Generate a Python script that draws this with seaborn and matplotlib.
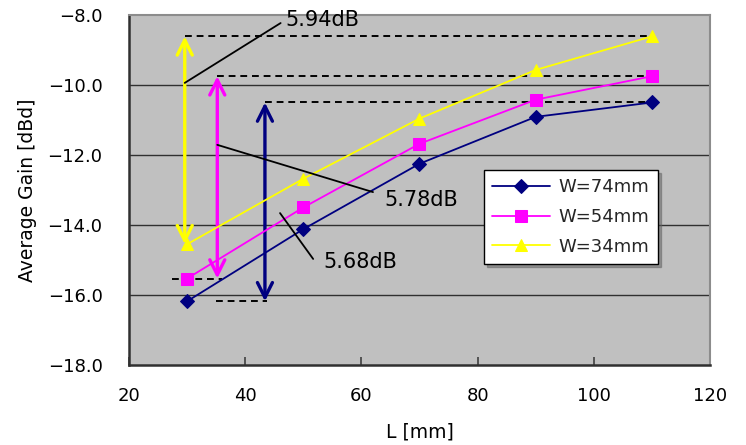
import matplotlib
matplotlib.use("Agg")
import matplotlib.pyplot as plt
import seaborn as sns
import pandas as pd

# Element length L [mm] and average gain [dBd] for each element width W
lengths = [30, 50, 70, 90, 110]
gain_w74 = [-16.18, -14.12, -12.25, -10.91, -10.50]
gain_w54 = [-15.53, -13.50, -11.68, -10.42, -9.75]
gain_w34 = [-14.55, -12.68, -10.96, -9.57, -8.61]

series_labels = ["W=74mm", "W=54mm", "W=34mm"]
series_colors = ["#000080", "#FF00FF", "#FFFF00"]
series_markers = ["D", "s", "^"]
series_msize = [7, 8, 9]

x_ticks = [20, 40, 60, 80, 100, 120]
y_ticks = [-18.0, -16.0, -14.0, -12.0, -10.0, -8.0]

sns.set_theme(style="white")
plt.rcParams["font.family"] = ["DejaVu Sans"]
plt.rcParams["axes.unicode_minus"] = True

df = pd.DataFrame({
    "L": lengths * 3,
    "gain": gain_w74 + gain_w54 + gain_w34,
    "W": [series_labels[0]] * 5 + [series_labels[1]] * 5 + [series_labels[2]] * 5,
})

fig = plt.figure(figsize=(7.46, 4.45), dpi=100)
ax = fig.add_axes([0.1729, 0.1798, 0.7788, 0.7865])
ax.set_facecolor("#C0C0C0")

# Horizontal grid lines
for yv in y_ticks[1:-1]:
    ax.axhline(yv, color="#303030", lw=1.0, zorder=1)

# Variation markers: dashed level lines and double arrows for each series
series_vals = [gain_w74, gain_w54, gain_w34]
arrow_x = [43.4, 35.2, 29.6]
top_dash_start = [43.4, 35.1, 29.6]
bottom_dash = [(35.0, 43.7), (27.4, 36.0), None]
for vals, col, ax_x, tds, bd in zip(series_vals, series_colors, arrow_x,
                                    top_dash_start, bottom_dash):
    vmax, vmin = max(vals), min(vals)
    ax.plot([tds, 110], [vmax, vmax], color="black", lw=1.4,
            dashes=(3.5, 2.5), zorder=2)
    if bd is not None:
        ax.plot(list(bd), [vmin, vmin], color="black", lw=1.4,
                dashes=(3.5, 2.5), zorder=2)
    ax.annotate("", xy=(ax_x, vmax), xytext=(ax_x, vmin),
                arrowprops=dict(arrowstyle="<->,head_length=0.9,head_width=0.45",
                                color=col, lw=2.4, shrinkA=0, shrinkB=0),
                zorder=3)

# Data series
for lab, col, mk, ms in zip(series_labels, series_colors, series_markers,
                            series_msize):
    sns.lineplot(data=df[df["W"] == lab], x="L", y="gain", ax=ax, color=col,
                 marker=mk, markersize=ms, markeredgecolor=col, lw=1.3,
                 label=lab, zorder=4)

# Difference annotations
range_texts = [
    ("5.94dB", (29.6, -9.94), (46.1, -8.23), (46.9, -8.14)),
    ("5.78dB", (35.2, -11.71), (62.0, -13.06), (63.9, -13.30)),
    ("5.68dB", (46.0, -13.66), (51.7, -14.97), (53.4, -15.05)),
]
for txt, p0, p1, tp in range_texts:
    ax.plot([p0[0], p1[0]], [p0[1], p1[1]], color="black", lw=1.3, zorder=5)
    ax.text(tp[0], tp[1], txt, fontsize=15, va="center", ha="left",
            color="black", zorder=6)

ax.set_xlim(20, 120)
ax.set_ylim(-18, -8)
ax.set_xticks(x_ticks)
ax.set_yticks(y_ticks)
ax.set_xticklabels([str(v) for v in x_ticks])
ax.set_yticklabels([f"{v:.1f}".replace("-", "\u2212") for v in y_ticks])
ax.tick_params(axis="x", direction="in", length=6, width=1.2, color="#404040",
               pad=16, labelsize=13, bottom=True, labelcolor="black")
ax.tick_params(axis="y", direction="in", length=0, pad=19, labelsize=13,
               left=True, labelcolor="black")
ax.set_xlabel("L [mm]", fontsize=13.5, color="black")
ax.set_ylabel("Average Gain [dBd]", fontsize=13.5, color="black")
ax.xaxis.set_label_coords(0.50, -0.165)
ax.yaxis.set_label_coords(-0.158, 0.5)

for side in ["left", "bottom"]:
    ax.spines[side].set_color("#303030")
    ax.spines[side].set_linewidth(1.8)
for side in ["top", "right"]:
    ax.spines[side].set_color("#8C8C8C")
    ax.spines[side].set_linewidth(1.5)

leg = ax.legend(loc="upper left", bbox_to_anchor=(0.611, 0.557),
                borderaxespad=0, fontsize=13, frameon=True, fancybox=False,
                edgecolor="black", facecolor="white", framealpha=1,
                handlelength=3.2, handletextpad=0.5, labelspacing=0.65,
                borderpad=0.45, shadow={"color": "#606060", "alpha": 0.5})
leg.get_frame().set_linewidth(1.0)
leg.set_zorder(10)

fig.savefig("out.png", dpi=100)
